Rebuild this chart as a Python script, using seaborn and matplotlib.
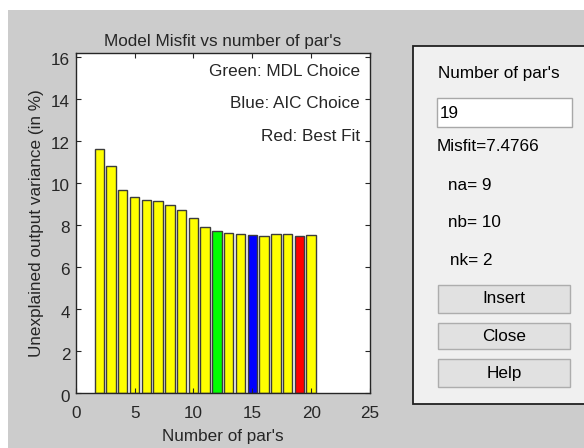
import matplotlib
matplotlib.use("Agg")
import matplotlib.pyplot as plt
from matplotlib.patches import Rectangle
from matplotlib.transforms import ScaledTranslation
import numpy as np
import pandas as pd
import seaborn as sns

# Misfit (unexplained output variance, %) for each total number of parameters
n_params = list(range(2, 21))
misfit = [11.60, 10.82, 9.65, 9.32, 9.21, 9.14, 8.94, 8.72, 8.32, 7.92,
          7.72, 7.64, 7.59, 7.54, 7.49, 7.56, 7.56, 7.4766, 7.51]
mdl_choice = 12
aic_choice = 15
best_fit = 19

x_ticks = [0, 5, 10, 15, 20, 25]
y_ticks = [0, 2, 4, 6, 8, 10, 12, 14, 16]

# Selected structure shown in the side panel
sel_npar = "19"
sel_misfit = "Misfit=7.4766"
sel_orders = ["na= 9", "nb= 10", "nk= 2"]
buttons = ["Insert", "Close", "Help"]

kind = []
for n in n_params:
    if n == mdl_choice:
        kind.append("MDL")
    elif n == aic_choice:
        kind.append("AIC")
    elif n == best_fit:
        kind.append("Best")
    else:
        kind.append("Other")
df = pd.DataFrame({"npar": n_params, "misfit": misfit, "kind": kind})
palette = {"Other": "#ffff00", "MDL": "#00ff00", "AIC": "#0000ff", "Best": "#ff0000"}

W, H = 584, 448
FONT = "Liberation Sans"
FS = 12.3
TXT = "#262626"

fig = plt.figure(figsize=(W / 100, H / 100), dpi=100, facecolor="white")


def fx(px):
    return px / W


def fy(py):
    return 1 - py / H


def box(x0, y0, x1, y1, fc, ec, lw=1.0):
    fig.add_artist(Rectangle((fx(x0), fy(y1)), fx(x1) - fx(x0), fy(y0) - fy(y1),
                             transform=fig.transFigure, facecolor=fc,
                             edgecolor=ec, linewidth=lw, zorder=0))


# window background
box(8, 10, W + 5, H + 5, "#cccccc", "none", 0)

# main axes
ax = fig.add_axes([fx(75.7), fy(393.3), fx(370) - fx(75.7), fy(52.7) - fy(393.3)])
ax.set_facecolor("white")
sns.barplot(data=df, x="npar", y="misfit", hue="kind", palette=palette,
            native_scale=True, width=0.8, dodge=False, saturation=1,
            edgecolor="#3c3c3c", linewidth=1.0, legend=False, ax=ax)
ax.set_xlim(0, 25)
ax.set_ylim(0, 16.2)
ax.set_xticks(x_ticks)
ax.set_yticks(y_ticks)
ax.set_xticklabels([str(t) for t in x_ticks], fontfamily=FONT, fontsize=FS, color=TXT)
ax.set_yticklabels([str(t) for t in y_ticks], fontfamily=FONT, fontsize=FS, color=TXT)
ax.tick_params(direction="in", top=True, right=True, length=3.5, width=0.8,
               color=TXT)
ax.tick_params(axis="x", pad=9)
ax.tick_params(axis="y", pad=4)
# y tick labels sit a little below their ticks
shift = ScaledTranslation(0, -2.3 / 100, fig.dpi_scale_trans)
for lab in ax.get_yticklabels():
    lab.set_transform(lab.get_transform() + shift)
for sp in ax.spines.values():
    sp.set_color(TXT)
    sp.set_linewidth(1.0)

ax.set_title("Model Misfit vs number of par's", fontfamily=FONT, fontsize=FS,
             color=TXT, pad=5)
ax.set_xlabel("Number of par's", fontfamily=FONT, fontsize=FS, color=TXT)
ax.set_ylabel("Unexplained output variance (in %)", fontfamily=FONT,
              fontsize=FS, color=TXT)
ax.xaxis.label.set_va("center")
ax.yaxis.label.set_va("center")
ax.xaxis.set_label_coords(0.5, (393.3 - 436) / 340.6)
ax.yaxis.set_label_coords((37 - 75.7) / 294.3, 0.5)

for label, yp in [("Green: MDL Choice", 71), ("Blue: AIC Choice", 103),
                  ("Red: Best Fit", 136)]:
    ax.text((360 - 75.7) / 294.3, (393.3 - yp) / 340.6, label,
            transform=ax.transAxes, ha="right", va="center",
            fontfamily=FONT, fontsize=FS, color=TXT)

# side panel
box(413, 46, W + 5, 404, "#f0f0f0", "#202020", 1.3)
box(436.7, 98.3, 571.7, 127.3, "white", "#a8a8a8", 1.0)


def ptext(x, y, s, ha="left"):
    fig.text(fx(x), fy(y), s, ha=ha, va="center", fontfamily=FONT,
             fontsize=FS, color="black")


ptext(438.3, 73.3, "Number of par's")
ptext(439.5, 113.5, sel_npar)
ptext(437, 146.7, sel_misfit)
for (xp, yp), s in zip([(448.3, 186), (448.3, 222.7), (450, 260)], sel_orders):
    ptext(xp, yp, s)

for (y0, y1), s in zip([(285, 312.7), (322.7, 349.3), (359.3, 386.7)], buttons):
    box(438.3, y0, 570, y1, "#e1e1e1", "#adadad", 1.0)
    ptext((438.3 + 570) / 2, (y0 + y1) / 2, s, ha="center")

fig.savefig("out.png", dpi=100, facecolor=fig.get_facecolor())
